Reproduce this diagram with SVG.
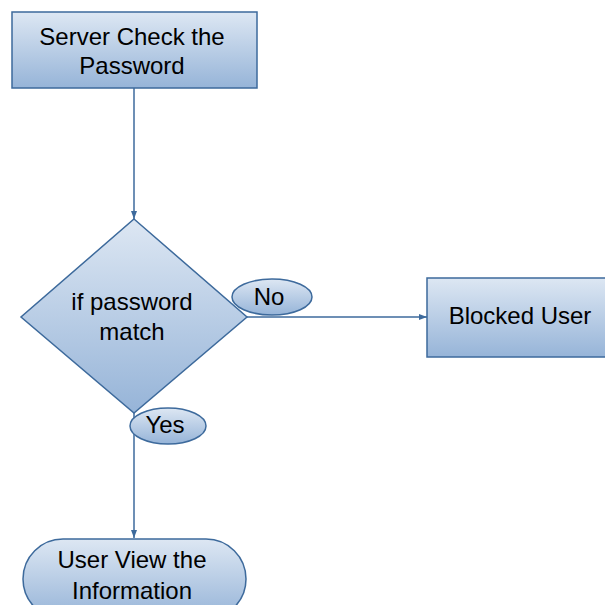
<svg xmlns="http://www.w3.org/2000/svg" width="605" height="605" viewBox="0 0 605 605">
  <defs>
    <linearGradient id="fill" x1="0" y1="0" x2="0" y2="1">
      <stop offset="0" stop-color="#dde7f3"/>
      <stop offset="1" stop-color="#96b4d8"/>
    </linearGradient>
    <marker id="arrow" markerWidth="8" markerHeight="6" refX="8" refY="3" orient="auto" markerUnits="userSpaceOnUse">
      <path d="M0,0 L8,3 L0,6 Z" fill="#3d6a9c"/>
    </marker>
    <style>
      .shape { fill: url(#fill); stroke: #3d6a9c; stroke-width: 1.5; }
      .edge { fill: none; stroke: #3d6a9c; stroke-width: 1.5; }
      .label { font-family: "Liberation Sans", Arial, sans-serif; font-size: 24px; fill: #000; text-anchor: middle; }
    </style>
  </defs>
  <rect width="605" height="605" fill="#ffffff"/>

  <!-- connectors -->
  <g id="connectors">
    <line class="edge" x1="134" y1="88" x2="134" y2="219" marker-end="url(#arrow)"/>
    <line class="edge" x1="247" y1="317" x2="427" y2="317" marker-end="url(#arrow)"/>
    <line class="edge" x1="134" y1="413" x2="134" y2="538" marker-end="url(#arrow)"/>
  </g>

  <!-- process: server check -->
  <g id="server-check">
    <rect class="shape" x="12" y="12" width="245" height="76"/>
    <text class="label" x="132" y="45">Server Check the</text>
    <text class="label" x="132" y="74">Password</text>
  </g>

  <!-- decision -->
  <g id="password-match">
    <polygon class="shape" points="134,219 247,317 134,413 21,317"/>
    <text class="label" x="132" y="310">if password</text>
    <text class="label" x="132" y="340">match</text>
  </g>

  <!-- branch labels -->
  <g id="label-no">
    <ellipse class="shape" cx="272" cy="297" rx="40" ry="18"/>
    <text class="label" x="269" y="305">No</text>
  </g>
  <g id="label-yes">
    <ellipse class="shape" cx="168" cy="426" rx="38" ry="18"/>
    <text class="label" x="165" y="433">Yes</text>
  </g>

  <!-- process: blocked -->
  <g id="blocked-user">
    <rect class="shape" x="427" y="278" width="185" height="79"/>
    <text class="label" x="520" y="324">Blocked User</text>
  </g>

  <!-- terminal: view info -->
  <g id="view-info">
    <rect class="shape" x="23" y="539" width="223" height="80" rx="40" ry="40"/>
    <text class="label" x="132" y="568">User View the</text>
    <text class="label" x="132" y="599">Information</text>
  </g>
</svg>
